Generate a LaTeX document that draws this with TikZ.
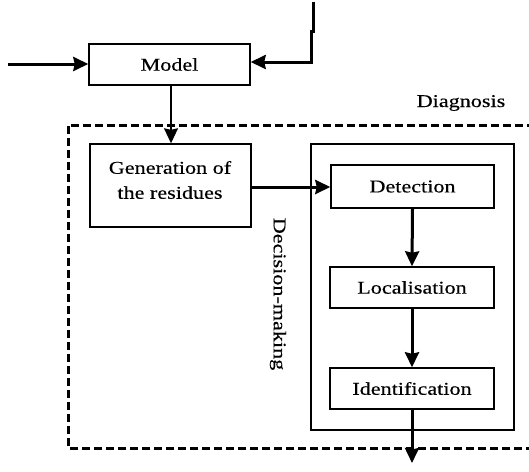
\documentclass[tikz,border=0pt]{standalone}
\usepackage{fontspec}
\setmainfont{Liberation Serif}[FakeStretch=1.23, FakeBold=0.35]
\usetikzlibrary{arrows.meta}
\tikzset{
  box/.style={draw, line width=1.4pt, inner sep=0pt, anchor=center, align=center,
              font=\fontsize{18}{25}\selectfont},
  label/.style={inner sep=0pt, font=\fontsize{18}{25}\selectfont},
  head/.style={-{Stealth[length=15pt,width=14pt,inset=1.5pt]}},
  flow/.style={line width=3pt, head},
  thinflow/.style={line width=1.4pt, head},
  frame/.style={line width=3pt, dash pattern=on 8pt off 4pt},
}
\begin{document}
\begin{tikzpicture}[x=1pt,y=-1pt]
  \useasboundingbox (0,0) rectangle (529,471);

  % diagnosis frame (open to the right)
  \draw[frame] (535,125) -- (68,125) -- (68,448) -- (535,448);
  \node[label] (diag) at (461,103) {Diagnosis};

  % model
  \node[box, minimum width=161pt, minimum height=41pt] (model) at (169.5,64.5) {Model};

  % residue generation
  \node[box, minimum width=161pt, minimum height=83pt] (gen) at (170.5,185.5) {};
  \node[label, align=center] (gentxt) at (170,180) {Generation of\\the residues};

  % decision-making block
  \node[box, minimum width=203pt, minimum height=286pt] (dec) at (412.5,287) {};
  \node[label, rotate=-90] (dectxt) at (278,294) {Decision-making};

  \node[box, minimum width=163pt, minimum height=43pt] (det) at (412.5,186.5) {Detection};
  \node[box, minimum width=164pt, minimum height=41pt] (loc) at (412,287.5) {Localisation};
  \node[box, minimum width=164pt, minimum height=41pt] (ide) at (412,388.5) {Identification};

  % inputs to the model
  \coordinate (in) at (8,64);
  \coordinate (top) at (313,2);
  \coordinate (jogA) at (313,31);
  \coordinate (jogB) at (311,31);
  \coordinate (corner) at (311,62);
  \coordinate (out) at (412,463);

  \draw[flow] (in) -- (model.west |- in);
  \draw[flow] (top) -- (jogA) -- (jogB) -- (corner) -- (model.east |- corner);

  % flow through the diagnosis
  \draw[thinflow] (model.south -| 171,0) -- (gen.north -| 171,0);
  \draw[flow] (gen.east |- 0,187) -- (det.west |- 0,187);
  \draw[flow] (det.south) -- (loc.north);
  \draw[flow] (loc.south) -- (ide.north);
  \draw[flow] (ide.south) -- (out);
\end{tikzpicture}
\end{document}
